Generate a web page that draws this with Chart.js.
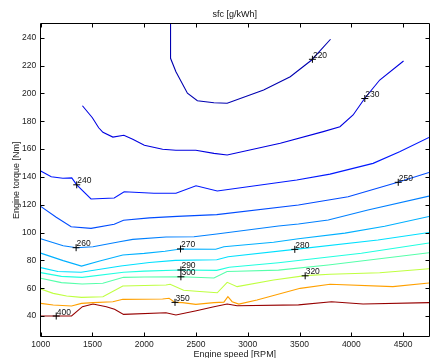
<!DOCTYPE html>
<html><head><meta charset="utf-8">
<script src="https://cdn.jsdelivr.net/npm/chart.js@4.4.0/dist/chart.umd.min.js"></script>
<style>html,body{margin:0;padding:0;background:#fff;overflow:hidden;}#wrap{position:relative;width:434px;height:358px;}</style>
</head><body><div id="wrap"><canvas id="c"></canvas></div>
<script>
// ---- data ----
const xTicks = [1000,1500,2000,2500,3000,3500,4000,4500];
const yTicks = [40,60,80,100,120,140,160,180,200,220,240];

const rpm220 = [2254,2254,2306,2417,2513,2673,2801,3153,3410,3617,3799];
const nm220  = [250,225.2,215.6,200.1,194.7,193.3,192.9,202.4,212,224,238.9];

const rpm230 = [1403,1499,1560,1601,1697,1803,1889,2001,2177,2306,2498,2673,2801,3314,3729,3890,4017,4130,4274,4504];
const nm230  = [191.1,182.5,175.3,172,168.6,169.9,167,162.7,159.8,159.1,159.1,156.9,155.7,164.1,172.5,176,184.5,196.5,209.6,223.3];

const rpm240 = [1000,1102,1214,1300,1348,1486,1710,1806,2094,2306,2500,2705,3473,3794,4210,4466,4750];
const nm240  = [144.2,140.1,139,139.3,134.3,124.1,124.8,129.3,128.2,128.2,133.6,129.9,137.7,142,149.7,158.1,168.3];

const rpm250 = [1000,1150,1294,1486,1710,1800,2050,2318,2700,3489,3969,4449,4750];
const nm250  = [118.8,111,104.2,103,105.9,108.8,110.5,111.6,112.9,119.8,125.7,136.1,143.2];

const rpm260 = [1000,1217,1346,1505,1761,1889,2210,2480,2700,3297,3489,3777,4160,4750];
const nm260  = [95.6,90.5,89.1,89.8,93.4,95.1,96.8,97,98.9,104.7,106.1,109,116.2,126.2];

const rpm270 = [1000,1217,1394,1570,1793,2000,2200,2350,2690,2769,3249,3489,3938,4322,4750];
const nm270  = [85.2,79.8,75.9,79.5,83.8,85,86.5,88.2,88,89.8,93,95.5,99.6,104.5,111.5];

const rpm280 = [1000,1166,1390,1774,2050,2300,2700,2810,3454,4257,4750];
const nm280  = [74.8,72,71.5,76,78.5,80,80.4,82.6,87.9,94.6,100];

const rpm290 = [1000,1200,1400,1800,2000,2354,2700,2820,3297,4097,4750];
const nm290  = [71.2,68.5,67.8,71.5,72.3,73.1,72.8,75,78.3,85.1,92.5];

const rpm300 = [1000,1200,1400,1600,1800,2000,2354,2673,2800,2900,3297,3777,4750];
const nm300  = [67.2,64,63,63.5,67.8,68,68.2,67.3,72,72.2,73,76.7,85.5];

const rpm320 = [1000,1121,1250,1394,1601,1793,2210,2250,2380,2503,2705,2801,2897,3249,3554,3794,4274,4750];
const nm320  = [59.4,56.3,54.4,53.4,53.9,61.6,62.3,62.8,58.5,57.8,56.7,64.2,61.1,65.9,69,70,71.1,74];

const rpm350 = [1000,1121,1298,1394,1505,1697,1793,2177,2240,2297,2369,2498,2673,2769,2808,2849,2913,3089,3506,3794,4401,4750];
const nm350  = [49.1,47.9,47.2,49.1,49.6,50.3,52,52.2,52.8,49.8,49.6,48.4,49.6,50,53.9,50.3,48.6,51.5,59.9,62.8,61.1,63.7];

const rpm400 = [1000,1298,1403,1505,1634,1713,1800,2210,2306,2503,2673,2801,2897,3490,3809,4113,4750];
const nm400  = [40,40,46.7,48.6,46.7,44.8,41.2,42.4,40.7,43.8,46.7,48.6,47.4,48,50.3,48.6,49.6];

const levelNames = ['220','230','240','250','260','270','280','290','300','320','350','400'];
const levelColors = ['#0000b0','#0000e0','#0018ff','#004cff','#0080ff','#00b0ff','#00e0ff','#20ffe0','#55ffaa','#bfff40','#ffa000','#960000'];

const labelRpm  = [3624,4130,1348,4453,1342,2350,3454,2354,2354,3554,2297,1150];
const labelNm   = [224.5,196.3,134.3,136.1,89.1,88.2,87.9,73.1,68.2,68.9,49.8,40];
const labelText = ['220','230','240','250','260','270','280','290','300','320','350','400'];

// ---- build ----
const seriesRpm = [rpm220,rpm230,rpm240,rpm250,rpm260,rpm270,rpm280,rpm290,rpm300,rpm320,rpm350,rpm400];
const seriesNm  = [nm220,nm230,nm240,nm250,nm260,nm270,nm280,nm290,nm300,nm320,nm350,nm400];
const FONT = "'Liberation Sans', Arial, Helvetica, sans-serif";

const datasets = [{
  label: 'labels',
  data: labelRpm.map((v,i)=>({x:v, y:labelNm[i]})),
  showLine: false, pointStyle: 'cross', pointRadius: 3.5,
  borderColor: '#000', backgroundColor: '#000', borderWidth: 1
}];
seriesRpm.forEach((r,k)=>{
  datasets.push({
    label: levelNames[k],
    data: r.map((v,i)=>({x:v, y:seriesNm[k][i]})),
    showLine: true, borderColor: levelColors[k], borderWidth: 1.1,
    pointRadius: 0, fill: false, tension: 0
  });
});

const frame = {
  id: 'frame',
  afterDraw(chart){
    const {ctx, chartArea:a, scales:{x, y}} = chart;
    ctx.save();
    ctx.strokeStyle = '#000'; ctx.lineWidth = 1;
    const L = Math.floor(a.left)+0.5, T = Math.floor(a.top)+0.5, B = Math.floor(a.bottom)+0.5, R = Math.floor(a.right)+0.5;
    ctx.beginPath();
    ctx.moveTo(L,T); ctx.lineTo(R,T); ctx.lineTo(R,B); ctx.lineTo(L,B); ctx.closePath();
    xTicks.forEach(v=>{ const p=Math.round(x.getPixelForValue(v))+0.5; ctx.moveTo(p,B); ctx.lineTo(p,B-4); ctx.moveTo(p,T); ctx.lineTo(p,T+4); });
    yTicks.forEach(v=>{ const p=Math.round(y.getPixelForValue(v))+0.5; ctx.moveTo(L,p); ctx.lineTo(L+4,p); ctx.moveTo(R,p); ctx.lineTo(R-4,p); });
    ctx.stroke();
    ctx.fillStyle = '#111'; ctx.font = '8.5px ' + FONT; ctx.textAlign = 'left'; ctx.textBaseline = 'alphabetic';
    labelText.forEach((t,i)=>{
      const px = x.getPixelForValue(labelRpm[i]), py = y.getPixelForValue(labelNm[i]);
      ctx.fillText(t, px+0.5, py-1.5);
    });
    ctx.restore();
  }
};

new Chart(document.getElementById('c'), {
  type: 'scatter',
  data: { datasets },
  options: {
    responsive: true, maintainAspectRatio: false, animation: false,
    layout: { padding: { left: 0, right: 2.2, top: 0, bottom: 0 } },
    plugins: {
      legend: { display: false }, tooltip: { enabled: false },
      title: { display: true, text: 'sfc [g/kWh]', fullSize: false, color: '#111',
        font: { size: 9, family: FONT, weight: 'normal' }, padding: { top: 9.5, bottom: 3.5 } }
    },
    scales: {
      x: {
        type: 'linear', min: 1000, max: 4750,
        afterBuildTicks: s => { s.ticks = xTicks.map(v=>({value:v})); },
        afterFit: s => { s.height = 21.1; },
        grid: { display: false, drawTicks: false }, border: { display: false },
        ticks: { autoSkip: false, maxRotation: 0, padding: 3, color: '#222', font: { size: 8.5, family: FONT }, callback: v => String(v) },
        title: { display: true, text: 'Engine speed [RPM]', color: '#222', font: { size: 9, family: FONT }, padding: { top: 0, bottom: -2 } }
      },
      y: {
        type: 'linear', min: 25, max: 250,
        afterBuildTicks: s => { s.ticks = yTicks.map(v=>({value:v})); },
        afterFit: s => { s.width = 40.7; },
        grid: { display: false, drawTicks: false }, border: { display: false },
        ticks: { autoSkip: false, padding: 4.5, color: '#222', font: { size: 8.5, family: FONT }, callback: v => String(v) },
        title: { display: true, text: 'Engine torque [Nm]', color: '#222', font: { size: 9, family: FONT }, padding: { top: 11.6, bottom: 0 } }
      }
    }
  },
  plugins: [frame]
});
</script>
</body></html>
